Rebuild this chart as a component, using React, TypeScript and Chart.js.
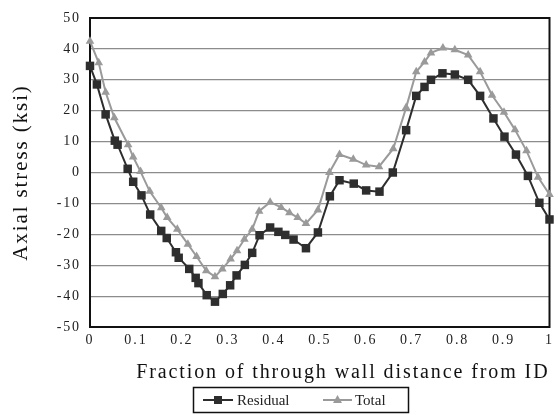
import React, { useEffect, useRef } from "react";
import { Chart, registerables } from "chart.js";

Chart.register(...registerables);

// ---- data ----
const residualX = [0, 0.015, 0.034, 0.054, 0.06, 0.082, 0.094, 0.112, 0.131, 0.155, 0.167, 0.187, 0.193, 0.216, 0.23, 0.236, 0.254, 0.272, 0.289, 0.305, 0.319, 0.337, 0.353, 0.369, 0.392, 0.41, 0.425, 0.443, 0.47, 0.496, 0.522, 0.543, 0.574, 0.601, 0.63, 0.659, 0.688, 0.71, 0.728, 0.742, 0.767, 0.794, 0.823, 0.849, 0.878, 0.902, 0.927, 0.953, 0.978, 1.0];
const residualY = [34.5, 28.5, 18.8, 10.3, 9.0, 1.2, -3.0, -7.4, -13.6, -18.9, -21.2, -25.8, -27.6, -31.2, -34.1, -35.8, -39.7, -41.8, -39.3, -36.5, -33.3, -29.9, -26.0, -20.3, -17.8, -19.2, -20.2, -21.7, -24.5, -19.4, -7.7, -2.5, -3.6, -5.8, -6.2, 0, 13.7, 24.8, 27.7, 30.0, 32.1, 31.7, 30.0, 24.8, 17.5, 11.6, 5.8, -1.1, -9.8, -15.2];

const totalX = [0, 0.019, 0.034, 0.053, 0.083, 0.094, 0.11, 0.13, 0.155, 0.168, 0.19, 0.213, 0.232, 0.253, 0.272, 0.288, 0.306, 0.32, 0.336, 0.353, 0.368, 0.392, 0.416, 0.434, 0.452, 0.47, 0.496, 0.521, 0.543, 0.573, 0.601, 0.629, 0.66, 0.688, 0.71, 0.728, 0.742, 0.768, 0.794, 0.823, 0.849, 0.875, 0.901, 0.925, 0.95, 0.975, 1.0];
const totalY = [42.5, 35.5, 26.0, 17.7, 9.0, 5.0, 0.3, -6.1, -11.4, -14.6, -18.4, -23.2, -27.2, -31.8, -33.7, -31.2, -28.0, -25.3, -21.6, -18.4, -12.5, -9.6, -11.3, -13.0, -14.6, -16.5, -12.1, 0, 5.8, 4.3, 2.4, 1.9, 7.7, 21.0, 32.6, 35.8, 38.7, 40.3, 39.7, 38.0, 32.6, 25.0, 19.5, 13.8, 7.0, -1.5, -7.1];

const seriesNames = ["Residual", "Total"];
const xTitle = "Fraction of through wall distance from ID";
const yTitle = "Axial stress (ksi)";
const yRange = [-50, 50];
const yStep = 10;
const xRange = [0, 1];
const xStep = 0.1;

const FONT = "'Liberation Serif', 'Times New Roman', serif";
const RES_COLOR = "#2e2e2e";
const TOT_COLOR = "#9a9a9a";

const spacingPlugin = {
  id: "spacing",
  beforeDraw(chart: any) {
    (chart.ctx as any).letterSpacing = "1.9px";
  },
};

const framePlugin = {
  id: "frame",
  beforeDatasetsDraw(chart: any) {
    const { ctx, chartArea } = chart;
    ctx.save();
    ctx.strokeStyle = "#111";
    ctx.lineWidth = 2;
    ctx.strokeRect(chartArea.left, chartArea.top, chartArea.right - chartArea.left, chartArea.bottom - chartArea.top);
    ctx.restore();
  },
};

const legendPlugin = {
  id: "boxLegend",
  afterDraw(chart: any) {
    const { ctx } = chart;
    ctx.save();
    (ctx as any).letterSpacing = "0px";
    ctx.strokeStyle = "#111";
    ctx.lineWidth = 1.5;
    ctx.strokeRect(193.5, 387.5, 215, 25);
    const cy = 400;
    const items = [
      { x0: 203, x1: 233, text: seriesNames[0], color: RES_COLOR, style: "rect", tx: 237 },
      { x0: 323, x1: 352, text: seriesNames[1], color: TOT_COLOR, style: "triangle", tx: 355 },
    ];
    ctx.font = `15px ${FONT}`;
    ctx.textBaseline = "middle";
    ctx.textAlign = "left";
    for (const it of items) {
      ctx.strokeStyle = it.color;
      ctx.lineWidth = 2;
      ctx.beginPath();
      ctx.moveTo(it.x0, cy);
      ctx.lineTo(it.x1, cy);
      ctx.stroke();
      ctx.fillStyle = it.color;
      const mx = (it.x0 + it.x1) / 2;
      ctx.beginPath();
      if (it.style === "rect") {
        ctx.rect(mx - 4, cy - 4, 8, 8);
      } else {
        ctx.moveTo(mx, cy - 5);
        ctx.lineTo(mx + 4.5, cy + 3);
        ctx.lineTo(mx - 4.5, cy + 3);
        ctx.closePath();
      }
      ctx.fill();
      ctx.fillStyle = "#222";
      ctx.fillText(it.text, it.tx, cy + 1);
    }
    ctx.restore();
  },
};

export default function App() {
  const ref = useRef<HTMLCanvasElement | null>(null);

  useEffect(() => {
    if (!ref.current) return;
    const chart = new Chart(ref.current, {
      type: "scatter",
      data: {
        datasets: [
          {
            label: seriesNames[0],
            data: residualX.map((x, i) => ({ x, y: residualY[i] })),
            showLine: true,
            borderColor: RES_COLOR,
            backgroundColor: RES_COLOR,
            borderWidth: 2,
            pointStyle: "rect",
            pointRadius: 6,
            pointBorderWidth: 0,
            tension: 0,
            clip: false,
          },
          {
            label: seriesNames[1],
            data: totalX.map((x, i) => ({ x, y: totalY[i] })),
            showLine: true,
            borderColor: TOT_COLOR,
            backgroundColor: TOT_COLOR,
            borderWidth: 2,
            pointStyle: "triangle",
            pointRadius: 5,
            pointBorderWidth: 0,
            tension: 0,
            clip: false,
          },
        ],
      },
      options: {
        animation: false,
        responsive: false,
        maintainAspectRatio: false,
        layout: { padding: { top: 18, right: 3, left: 0, bottom: 0 } },
        plugins: {
          legend: { display: false },
          tooltip: { enabled: false },
        },
        scales: {
          x: {
            type: "linear",
            min: xRange[0],
            max: xRange[1],
            ticks: {
              stepSize: xStep,
              color: "#222",
              font: { family: FONT, size: 14 },
              padding: 5,
              maxRotation: 0,
              callback: (v: any) => String(Number(Number(v).toFixed(1))),
            },
            grid: { display: false, drawTicks: false },
            border: { display: false },
            title: {
              display: true,
              text: xTitle,
              align: "end",
              color: "#111",
              font: { family: FONT, size: 20 },
              padding: { top: 0, bottom: 30 },
            },
            afterFit(scale: any) {
              scale.height = 88;
            },
          },
          y: {
            type: "linear",
            min: yRange[0],
            max: yRange[1],
            ticks: {
              stepSize: yStep,
              color: "#222",
              font: { family: FONT, size: 14 },
              padding: 9,
            },
            grid: { color: "#8c8c8c", lineWidth: 1.2, drawTicks: false },
            border: { display: false },
            title: {
              display: true,
              text: yTitle,
              color: "#111",
              font: { family: FONT, size: 21 },
              padding: { top: 9, bottom: 0 },
            },
            afterFit(scale: any) {
              scale.width = 90;
            },
          },
        },
      },
      plugins: [spacingPlugin, framePlugin, legendPlugin],
    });
    return () => chart.destroy();
  }, []);

  return (
    <div style={{ position: "fixed", left: 0, top: 0, width: 558, height: 415, background: "#fff" }}>
      <canvas ref={ref} width={558} height={415} style={{ width: 558, height: 415, display: "block" }} />
    </div>
  );
}
